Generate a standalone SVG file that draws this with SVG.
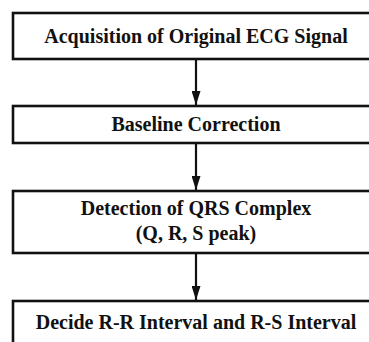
<svg xmlns="http://www.w3.org/2000/svg" width="369" height="342" viewBox="0 0 369 342">
  <style>
    .box { fill: #ffffff; stroke: #111111; stroke-width: 2.6; }
    .label { font-family: 'Liberation Serif', 'Times New Roman', Times, serif; font-weight: 700; font-size: 20px; fill: #111111; text-anchor: middle; }
    .link { stroke: #111111; stroke-width: 2.2; fill: none; }
  </style>
  <defs>
    <marker id="arrow" markerWidth="14" markerHeight="9" refX="14" refY="4.5" orient="auto" markerUnits="userSpaceOnUse" viewBox="0 0 14 9">
      <path d="M0,0 L14,4.5 L0,9 Z" fill="#111111"/>
    </marker>
  </defs>
  <rect width="369" height="342" fill="#ffffff"/>

  <g id="acquisition">
    <rect class="box" x="13" y="13" width="366" height="46"/>
    <text class="label" x="196" y="43" font-family="Liberation Serif, serif">Acquisition of Original ECG Signal</text>
  </g>

  <g id="baseline">
    <rect class="box" x="13" y="106" width="366" height="37"/>
    <text class="label" x="196" y="131" font-family="Liberation Serif, serif">Baseline Correction</text>
  </g>

  <g id="qrs">
    <rect class="box" x="13" y="191" width="366" height="62"/>
    <text class="label" x="196" y="215" font-family="Liberation Serif, serif">Detection of QRS Complex</text>
    <text class="label" x="196" y="240" font-family="Liberation Serif, serif">(Q, R, S peak)</text>
  </g>

  <g id="intervals">
    <rect class="box" x="13" y="301" width="366" height="60"/>
    <text class="label" x="196" y="329" font-family="Liberation Serif, serif">Decide R-R Interval and R-S Interval</text>
  </g>

  <g id="connectors">
    <line class="link" x1="196" y1="59" x2="196" y2="105" marker-end="url(#arrow)"/>
    <line class="link" x1="196" y1="143" x2="196" y2="190" marker-end="url(#arrow)"/>
    <line class="link" x1="196" y1="253" x2="196" y2="300" marker-end="url(#arrow)"/>
  </g>
</svg>
